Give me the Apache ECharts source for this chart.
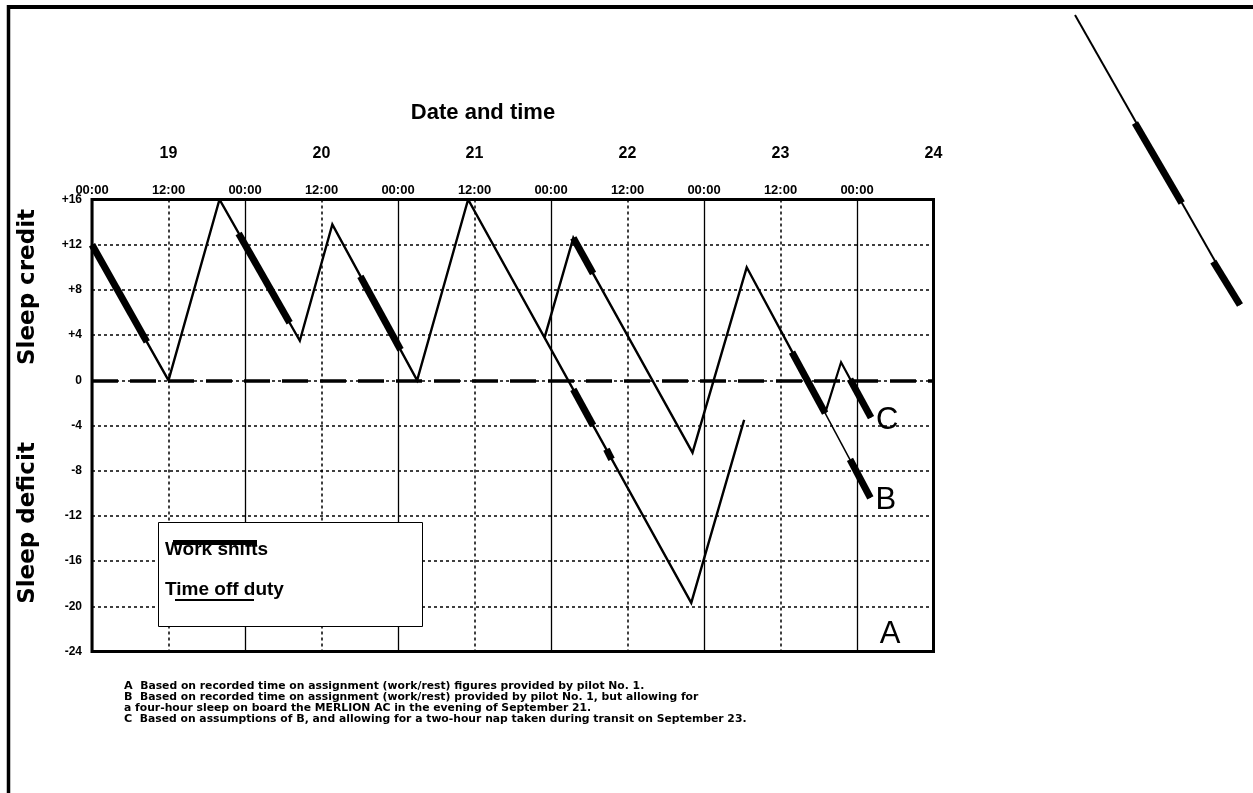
<!DOCTYPE html>
<html>
<head>
<meta charset="utf-8">
<script src="https://cdn.jsdelivr.net/npm/echarts@6/dist/echarts.min.js"></script>
<style>
html,body{margin:0;padding:0;background:#fff;}
#chart{width:1253px;height:793px;}
</style>
</head>
<body>
<div id="chart"></div>
<script>
// ---------- data (hours from 00:00 on the 19th, sleep credit/deficit in hours) ----------
const dayNames = ['19', '20', '21', '22', '23', '24'];
const timeNames = ['00:00', '12:00'];

// Curve A: off-duty / full path
const pathA = [[0, 12], [12, 0], [20, 16], [32.6, 3.5], [37.7, 13.8], [51, 0], [59, 16], [94, -19.7], [102.3, -3.5]];
const workA = [
  [[0, 12], [8.6, 3.4]],
  [[23, 13.0], [31, 5.1]],
  [[42.1, 9.2], [48.4, 2.7]],
  [[75.5, -0.8], [78.6, -4.0]],
  [[80.7, -6.1], [81.5, -7.0]]
];
// Curve B (four-hour sleep on board, evening 21st)
const pathB = [[71, 3.8], [75.5, 12.6], [94.2, -6.4], [102.7, 10], [115, -2.9]];
const pathBTail = [[115, -2.9], [122.1, -10.4]];
const workB = [
  [[75.5, 12.6], [78.6, 9.45]],
  [[109.8, 2.5], [115, -2.9]],
  [[118.9, -7.0], [122.1, -10.4]]
];
// Curve C (two-hour nap in transit, 23rd)
const pathC = [[115, -2.9], [117.5, 1.6], [122.2, -3.3]];
const workC = [
  [[118.9, 0.1], [122.2, -3.3]]
];
// stray stroke at the top right of the page (page units)
const strayLine = [[15, 15], [180, 305]];
const strayThick = [[[75, 123], [121.7, 203]], [[153.3, 261.7], [180, 305]]];

const footnotes = [
  '{b|A}  Based on recorded time on assignment (work/rest) figures provided by pilot No. 1.',
  '{b|B}  Based on recorded time on assignment (work/rest) provided by pilot No. 1, but allowing for',
  'a four-hour sleep on board the MERLION AC in the evening of September 21.',
  '{b|C}  Based on assumptions of {b|B}, and allowing for a two-hour nap taken during transit on September 23.'
];

// ---------- chart ----------
const FONT = '"Liberation Sans", Arial, sans-serif';
const WIDE = '"DejaVu Sans", "Liberation Sans", sans-serif';
const chart = echarts.init(document.getElementById('chart'), null, { renderer: 'canvas' });

function thin(data, width, extra) {
  return Object.assign({
    type: 'line', data: data, xAxisIndex: 0, yAxisIndex: 0,
    symbol: 'none', silent: true, animation: false,
    lineStyle: { color: '#000', width: width || 2.4, join: 'miter', cap: 'butt' }, z: 5
  }, extra || {});
}
function thick(seg) {
  return {
    type: 'line', data: seg, xAxisIndex: 0, yAxisIndex: 0, symbol: 'none', silent: true, animation: false,
    lineStyle: { color: '#000', width: 7, cap: 'butt' }, z: 6
  };
}

const series = [
  thin(pathA, 2.4, {
    markLine: {
      silent: true, symbol: 'none', animation: false,
      label: { show: false },
      lineStyle: { color: '#000', width: 3.5, type: [26, 12] },
      data: [{ yAxis: 0 }]
    },
    markPoint: {
      symbol: 'rect', symbolSize: 0, animation: false,
      label: { show: true, formatter: 'A', color: '#000', fontFamily: FONT, fontSize: 31, position: 'inside' },
      data: [{ coord: [125.2, -22.5] }]
    }
  }),
  thin(pathB, 2.4),
  thin(pathBTail, 1.5, {
    endLabel: { show: true, formatter: 'B', color: '#000', fontFamily: FONT, fontSize: 31, distance: 5, offset: [0, 3] }
  }),
  thin(pathC, 2.2, {
    endLabel: { show: true, formatter: 'C', color: '#000', fontFamily: FONT, fontSize: 31, distance: 5, offset: [0, 3] }
  })
];
workA.concat(workB, workC).forEach(s => series.push(thick(s)));
// stray stroke
series.push({
  type: 'line', data: strayLine, xAxisIndex: 3, yAxisIndex: 1, symbol: 'none', silent: true, animation: false,
  lineStyle: { color: '#000', width: 2 }
});
strayThick.forEach(s => series.push({
  type: 'line', data: s, xAxisIndex: 3, yAxisIndex: 1, symbol: 'none', silent: true, animation: false,
  lineStyle: { color: '#000', width: 7, cap: 'butt' }
}));

const option = {
  backgroundColor: '#fff',
  animation: false,
  grid: [
    { left: 92, right: 319.5, top: 199.5, bottom: 141.5, show: true, borderColor: '#000', borderWidth: 3, backgroundColor: 'transparent', z: 8 },
    { left: 1060, top: 0, width: 193, height: 320, show: false }
  ],
  xAxis: [
    { // grid lines: solid at midnight, dotted at noon
      type: 'value', gridIndex: 0, min: 0, max: 132, interval: 24, position: 'top',
      axisLine: { show: false }, axisTick: { show: false }, axisLabel: { show: false },
      splitLine: { show: true, lineStyle: { color: '#000', width: 1.3, type: 'solid' } },
      minorTick: { show: false, splitNumber: 2 },
      minorSplitLine: { show: true, lineStyle: { color: '#000', width: 1.5, type: [3, 3] } }
    },
    { // time labels
      type: 'value', gridIndex: 0, min: 0, max: 132, interval: 12, position: 'top',
      axisLine: { show: false }, axisTick: { show: false }, splitLine: { show: false },
      axisLabel: {
        show: true, margin: 3, color: '#000', fontFamily: FONT, fontWeight: 'bold', fontSize: 13,
        formatter: v => v >= 132 ? '' : timeNames[(v % 24) / 12]
      }
    },
    { // day labels
      type: 'value', gridIndex: 0, min: 0, max: 132, interval: 12, position: 'top', offset: 34,
      axisLine: { show: false }, axisTick: { show: false }, splitLine: { show: false },
      axisLabel: {
        show: true, margin: 4, color: '#000', fontFamily: FONT, fontWeight: 'bold', fontSize: 16,
        showMaxLabel: true,
        formatter: v => ((v - 12) % 24 === 0 ? dayNames[(v - 12) / 24] : '')
      }
    },
    { type: 'value', gridIndex: 1, min: 0, max: 193, show: false }
  ],
  yAxis: [
    {
      type: 'value', gridIndex: 0, min: -24, max: 16, interval: 4,
      axisLine: { show: false }, axisTick: { show: false },
      axisLabel: {
        margin: 10, color: '#000', fontFamily: FONT, fontWeight: 'bold', fontSize: 12,
        formatter: v => (v > 0 ? '+' + v : String(v))
      },
      splitLine: { show: true, lineStyle: { color: '#000', width: 1.5, type: [3, 3] } }
    },
    { type: 'value', gridIndex: 1, min: 0, max: 320, inverse: true, show: false }
  ],
  graphic: [
    // page frame
    { type: 'line', shape: { x1: 7, y1: 7, x2: 1253, y2: 7 }, style: { stroke: '#000', lineWidth: 4 }, silent: true },
    { type: 'line', shape: { x1: 8.5, y1: 5, x2: 8.5, y2: 793 }, style: { stroke: '#000', lineWidth: 3.5 }, silent: true },
    // title
    { type: 'text', x: 483, y: 113, silent: true,
      style: { text: 'Date and time', fill: '#000', font: 'bold 22px ' + FONT, align: 'center', verticalAlign: 'middle' } },
    // y axis titles
    { type: 'text', x: 28, y: 287, rotation: Math.PI / 2, silent: true,
      style: { text: 'Sleep credit', fill: '#000', font: 'bold 23px ' + WIDE, align: 'center', verticalAlign: 'middle' } },
    { type: 'text', x: 28, y: 523, rotation: Math.PI / 2, silent: true,
      style: { text: 'Sleep deficit', fill: '#000', font: 'bold 23px ' + WIDE, align: 'center', verticalAlign: 'middle' } },
    // legend box
    { type: 'rect', z: 20, silent: true, shape: { x: 158.5, y: 522.5, width: 264, height: 104 },
      style: { fill: '#fff', stroke: '#000', lineWidth: 1 } },
    { type: 'text', z: 21, x: 165, y: 550, silent: true,
      style: { text: 'Work shifts', fill: '#000', font: 'bold 19px ' + FONT, verticalAlign: 'middle' } },
    { type: 'line', z: 22, silent: true, shape: { x1: 173, y1: 542.5, x2: 257, y2: 542.5 }, style: { stroke: '#000', lineWidth: 5 } },
    { type: 'text', z: 21, x: 165, y: 590, silent: true,
      style: { text: 'Time off duty', fill: '#000', font: 'bold 19px ' + FONT, verticalAlign: 'middle' } },
    { type: 'line', z: 22, silent: true, shape: { x1: 175, y1: 600, x2: 254, y2: 600 }, style: { stroke: '#000', lineWidth: 2 } },
    // footnotes
    { type: 'text', x: 124, y: 681, silent: true,
      style: {
        text: footnotes.join('\n'), fill: '#000', font: 'bold 10.8px ' + WIDE, lineHeight: 10.8,
        rich: { b: { fontWeight: 'bold', fontFamily: WIDE, fontSize: 11.2, lineHeight: 10.8 } }
      } }
  ],
  series: series
};
chart.setOption(option);
</script>
</body>
</html>
